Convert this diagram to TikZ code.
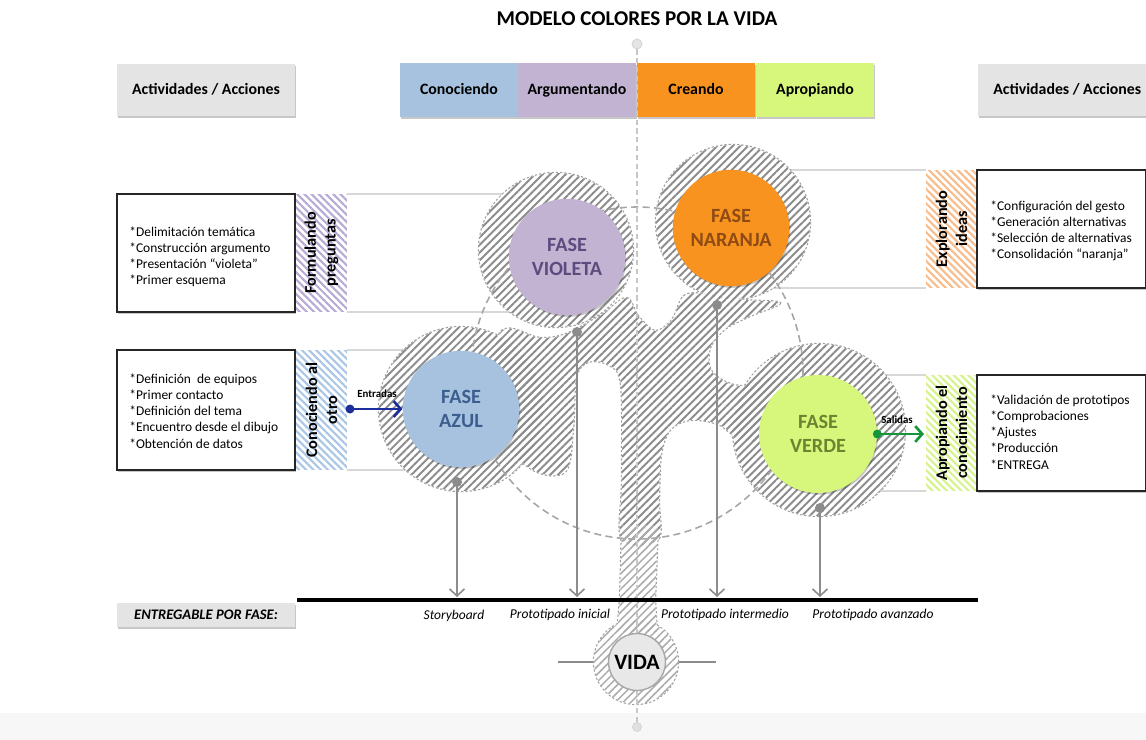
\documentclass[tikz,border=0pt]{standalone}
\usepackage{fontspec}
\setmainfont{Carlito}
\usetikzlibrary{arrows.meta,patterns.meta,shadows}
\definecolor{hdrgray}{HTML}{E4E4E4}
\definecolor{cblue}{HTML}{A7C2DF}
\definecolor{cviolet}{HTML}{C1B3D1}
\definecolor{corange}{HTML}{F8931F}
\definecolor{cgreen}{HTML}{D7F77C}
\definecolor{tblue}{HTML}{3B5E8E}
\definecolor{tviolet}{HTML}{5E4A7E}
\definecolor{torange}{HTML}{8E4B14}
\definecolor{tgreen}{HTML}{6C8430}
\definecolor{hatchc}{HTML}{8C8C8C}
\definecolor{hatchlight}{HTML}{ABABAB}
\definecolor{outl}{HTML}{A0A0A0}
\definecolor{faint}{HTML}{D8D8D8}
\definecolor{conn}{HTML}{8C8C8C}
\definecolor{inblue}{HTML}{1B2E9B}
\definecolor{outgreen}{HTML}{16963A}
\definecolor{sviolet}{HTML}{B8AAD6}
\definecolor{sblue}{HTML}{A9C6E6}
\definecolor{sorange}{HTML}{F8BC8A}
\definecolor{sgreen}{HTML}{D6F38A}
\newcommand\mytitlefont{\fontsize{12}{14}\selectfont\bfseries}
\newcommand\myhdfont{\fontsize{9}{11}\selectfont\bfseries}
\newcommand\mylsfont{\fontsize{7.65}{9.2}\selectfont}
\newcommand\mystfont{\fontsize{9.2}{11.3}\selectfont\bfseries}
\newcommand\myphfont{\fontsize{11.5}{13.6}\selectfont\bfseries}
\newcommand\mylabfont{\fontsize{7.7}{9}\selectfont\itshape}
\newcommand\myarrfont{\fontsize{6.2}{7}\selectfont\bfseries}
\newcommand\upperhatch[1]{%
  \path[#1] (556,250) circle[radius=77];
  \path[#1] (733,222) circle[radius=77];
  \path[#1] (461,409) circle[radius=82];
  \path[#1] (819,430) circle[radius=86];
  \path[#1] plot[smooth cycle, tension=0.55] coordinates {(500,333) (540,338) (566,334) (600,316) (626,298) (638,316) (655,331) (672,320) (684,296) (705,294) (745,300) (780,303) (750,316) (725,329) (710,348) (712,372) (740,386) (790,378) (805,440) (745,440) (718,424) (690,420) (670,430) (661,455) (659,500) (658,540) (622,540) (622,480) (621,385) (609,365) (588,362) (576,378) (573,430) (565,472) (530,468) (490,420)};
}
\newcommand\lowerhatch[1]{%
  \path[#1] (622,525) -- (658,525) -- (655,600) -- (657,632) -- (617,632) -- (620,600) -- cycle;
  \path[#1] (636,662) circle[radius=42];
}
\begin{document}
\begin{tikzpicture}[x=0.02cm, y=-0.02cm,
  myshadow/.style={drop shadow={shadow xshift=0.6pt, shadow yshift=-0.9pt, opacity=0.22, fill=black}},
  hdr/.style={fill=hdrgray, inner sep=0pt, minimum width=3.56cm, minimum height=1.04cm, font=\myhdfont, text height=6.4pt, text depth=0.8pt, myshadow},
  tabbox/.style={inner sep=0pt, minimum width=2.36cm, minimum height=1.08cm, font=\myhdfont, text height=6.4pt, text depth=0.8pt, myshadow},
  listbox/.style={draw=black!85, line width=0.8pt, fill=white, inner sep=0pt, minimum width=3.56cm, myshadow},
  listboxr/.style={listbox, minimum width=3.38cm},
  listtext/.style={anchor=west, align=left, inner sep=0pt, font=\mylsfont},
  stripbox/.style={inner sep=0pt, minimum width=1.02cm, preaction={fill=white}, pattern={Lines[angle=-45,distance=2.9pt,line width=1.2pt]}, pattern color=#1},
  striptext/.style={rotate=90, align=center, inner sep=0pt, font=\mystfont},
  phase/.style={circle, inner sep=0pt, minimum size=2.33cm, align=center, font=\myphfont, myshadow},
  faintline/.style={draw=faint, line width=0.8pt},
  hatchout/.style={draw=outl, line width=1.3pt, dash pattern=on 1.3pt off 1.1pt},
  hatchdark/.style={pattern={Lines[angle=45,distance=3.1pt,line width=1.1pt]}, pattern color=hatchc},
  hatchlite/.style={pattern={Lines[angle=45,distance=3.1pt,line width=0.85pt]}, pattern color=hatchlight},
  bigdash/.style={draw=black!35, line width=0.9pt, dash pattern=on 4pt off 2.5pt},
  centerdash/.style={draw=black!22, line width=0.8pt, dash pattern=on 3pt off 2pt},
  connline/.style={draw=conn, line width=0.9pt, -{Straight Barb[length=4pt,width=8.5pt]}},
  conndot/.style={fill=conn},
  lab/.style={font=\mylabfont, inner sep=1pt},
  arrlab/.style={font=\myarrfont, inner sep=0pt}
]
\useasboundingbox (0,0) rectangle (1146,740);
\fill[white] (0,0) rectangle (1146,740);
\fill[black!3] (0,713) rectangle (1146,740);

% faint row lines
\draw[faintline] (347,194) -- (560,194);
\draw[faintline] (347,312) -- (560,312);
\draw[faintline] (347,350) -- (470,350);
\draw[faintline] (347,470) -- (470,470);
\draw[faintline] (720,170) -- (926,170);
\draw[faintline] (720,288) -- (926,288);
\draw[faintline] (818,375) -- (926,375);
\draw[faintline] (818,491) -- (926,491);

% VIDA side lines
\coordinate (vl) at (558,662);
\coordinate (vr) at (716,662);
\draw[conn, line width=0.9pt] (vl) -- (vr);

% hatched organic shape
\upperhatch{hatchout}
\lowerhatch{hatchout}
\upperhatch{fill=white}
\lowerhatch{fill=white}
\upperhatch{hatchdark}
\lowerhatch{hatchlite}

% big dashed circle and center line
\draw[bigdash] (637,373) circle[radius=166];
\node[circle, fill=black!10, draw=black!18, inner sep=0pt, minimum size=0.2cm] (topc) at (637,44) {};
\node[circle, fill=black!12, draw=black!18, inner sep=0pt, minimum size=0.18cm] (botc) at (637,727) {};
\draw[centerdash] (topc) -- (botc);

% phase circles
\node[phase, fill=cviolet, text=tviolet] (vi) at (567,257) {FASE\\VIOLETA};
\node[phase, fill=corange, text=torange] (na) at (731,228) {FASE\\NARANJA};
\node[phase, fill=cblue, text=tblue] (az) at (461,409) {FASE\\AZUL};
\node[phase, fill=cgreen, text=tgreen, minimum size=2.36cm] (ve) at (818,434) {FASE\\VERDE};

% baseline
\coordinate (bl) at (297,600);
\coordinate (br) at (978,600);
\draw[black, line width=1.8pt] (bl) -- (br);

% connectors to deliverables
\coordinate (azdot) at (457,482);
\coordinate (vidot) at (577,332);
\coordinate (nadot) at (717,305);
\coordinate (vedot) at (820,508);
\coordinate (azend) at (457,597);
\coordinate (viend) at (577,597);
\coordinate (naend) at (717,597);
\coordinate (veend) at (820,597);
\draw[connline] (azdot) -- (azend);
\draw[connline] (vidot) -- (viend);
\draw[connline] (nadot) -- (naend);
\draw[connline] (vedot) -- (veend);
\fill[conndot] (azdot) circle[radius=5];
\fill[conndot] (vidot) circle[radius=5];
\fill[conndot] (nadot) circle[radius=5];
\fill[conndot] (vedot) circle[radius=5];

% deliverable labels
\node[hdr, minimum height=0.48cm, font=\fontsize{8.3}{9}\selectfont\bfseries\itshape] (ent) at (206,615) {ENTREGABLE POR FASE:};
\node[lab] (sb) at (454,616) {Storyboard};
\node[lab] (pi) at (560,615) {Prototipado inicial};
\node[lab] (pm) at (725,615) {Prototipado intermedio};
\node[lab] (pa) at (873,615) {Prototipado avanzado};

% VIDA
\node[circle, draw=black!35, line width=0.8pt, fill=black!9, inner sep=0pt, minimum size=1.14cm, font=\fontsize{12.5}{14}\selectfont\bfseries] (vida) at (637,662) {VIDA};

% title, headers, tabs
\node[font=\mytitlefont] (title) at (637,19) {MODELO COLORES POR LA VIDA};
\node[hdr] (hl) at (206,90) {Actividades / Acciones};
\node[hdr, minimum width=3.36cm] (hr) at (1062,90) {\hspace*{6pt}Actividades / Acciones};
\node[tabbox, fill=cblue] (t1) at (459,90) {Conociendo};
\node[tabbox, fill=cviolet] (t2) at (577,90) {Argumentando};
\node[tabbox, fill=corange] (t3) at (696,90) {Creando};
\node[tabbox, fill=cgreen] (t4) at (815,90) {Apropiando};
\draw[centerdash] (topc) -- (637,118);

% left list boxes
\node[listbox, minimum height=2.36cm] (b1) at (206,253) {};
\node[listtext] (b1t) at (129,257) {*Delimitación temática\\*Construcción argumento\\*Presentación “violeta”\\*Primer esquema};
\node[stripbox=sviolet, minimum height=2.36cm] (fp) at (321.5,253) {};
\node[striptext] (fpt) at (fp) {Formulando\\preguntas};

\node[listbox, minimum height=2.4cm] (b2) at (206,410) {};
\node[listtext] (b2t) at (129,411) {*Definición\ \ de equipos\\*Primer contacto\\*Definición del tema\\*Encuentro desde el dibujo\\*Obtención de datos};
\node[stripbox=sblue, minimum height=2.4cm] (co) at (321.5,410) {};
\node[striptext] (cot) at (co) {Conociendo al\\otro};

% right list boxes
\node[stripbox=sorange, minimum height=2.36cm] (ex) at (951.5,229) {};
\node[striptext] (ext) at (ex) {Explorando\\ideas};
\node[listboxr, minimum height=2.36cm] (b3) at (1061.5,229) {};
\node[listtext] (b3t) at (990,231) {*Configuración del gesto\\*Generación alternativas\\*Selección de alternativas\\*Consolidación “naranja”};

\node[stripbox=sgreen, minimum height=2.32cm] (ap) at (951.5,433) {};
\node[striptext] (apt) at (ap) {Apropiando el\\conocimiento};
\node[listboxr, minimum height=2.32cm] (b4) at (1061.5,433) {};
\node[listtext] (b4t) at (990,432) {*Validación de prototipos\\*Comprobaciones\\*Ajustes\\*Producción\\*ENTREGA};

% inputs / outputs
\coordinate (indot) at (350,409);
\draw[inblue, line width=1.5pt, -{Straight Barb[length=4pt,width=9pt]}] (indot) -- (az.west);
\fill[inblue] (indot) circle[radius=4.5];
\node[arrlab] (inlab) at (377,394) {Entradas};

\coordinate (outdot) at (ve.east);
\coordinate (outend) at (924,434);
\draw[outgreen, line width=1.5pt, -{Straight Barb[length=4pt,width=9pt]}] (outdot) -- (outend);
\fill[outgreen] (outdot) circle[radius=4.5];
\node[arrlab] (outlab) at (897,420) {Salidas};
\end{tikzpicture}
\end{document}
